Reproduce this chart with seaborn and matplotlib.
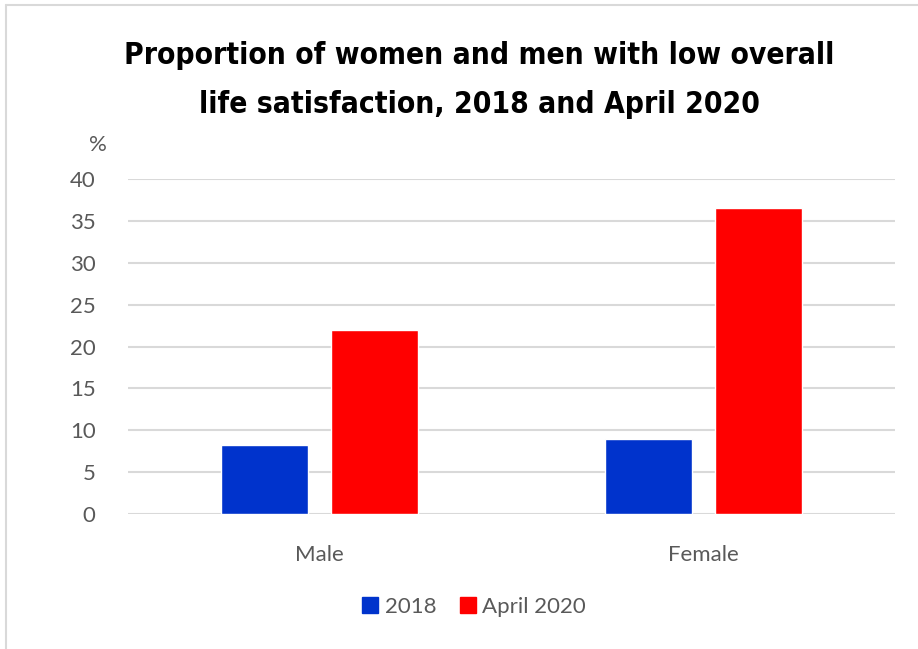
import pandas as pd
import seaborn as sns
import matplotlib.pyplot as plt
from matplotlib.lines import Line2D

# values (%)
sexes = ["Male", "Female"]
periods = ["2018", "April 2020"]
vals_2018 = [8.2, 9.0]
vals_apr2020 = [22.0, 36.6]
y_ticks = [0, 5, 10, 15, 20, 25, 30, 35, 40]

df = pd.DataFrame({
    "sex": sexes * 2,
    "period": [periods[0]] * 2 + [periods[1]] * 2,
    "pct": vals_2018 + vals_apr2020,
})

sns.set_style("white")
plt.rcParams['font.family'] = ['Lato', 'DejaVu Sans']

colors = {"2018": "#0033CC", "April 2020": "#FF0000"}
grey = "#595959"

fig = plt.figure(figsize=(9.18, 6.49), dpi=100)
ax = fig.add_axes([0.139, 0.208, 0.836, 0.516])

sns.barplot(data=df, x="sex", y="pct", hue="period", order=sexes,
            hue_order=periods, palette=colors, width=0.574, gap=0.21,
            saturation=1, ax=ax, legend=False, zorder=3)

ax.set_ylim(0, 40)
ax.set_xlim(-0.5, 1.5)
ax.set_yticks(y_ticks)
ax.yaxis.grid(True, color="#d9d9d9", linewidth=1.5, zorder=0)
ax.set_axisbelow(True)
for s in ax.spines.values():
    s.set_visible(False)
ax.tick_params(axis="both", length=0, labelsize=16, labelcolor=grey)
ax.tick_params(axis="y", pad=23)
ax.tick_params(axis="x", pad=22)
ax.set_xlabel("")
ax.set_ylabel("")

fig.text(0.107, 0.777, "%", fontsize=16, color=grey, ha="center", va="center")

title_font = dict(family="DejaVu Sans", fontstretch="condensed",
                  fontweight="bold", fontsize=21.5, color="black",
                  ha="center", va="center")
fig.text(0.522, 0.914, "Proportion of women and men with low overall",
         **title_font)
fig.text(0.522, 0.839, "life satisfaction, 2018 and April 2020",
         **title_font)

handles = [Line2D([], [], marker="s", linestyle="", markersize=11,
                  color=colors[p]) for p in periods]
fig.legend(handles, periods, loc="center", bbox_to_anchor=(0.516, 0.065),
           ncol=2, frameon=False, fontsize=16, labelcolor=grey,
           handletextpad=0.25, columnspacing=1.0, handlelength=0.8)

# outer chart border
fig.add_artist(Line2D([0.006, 1.0], [0.992, 0.992], color="#d9d9d9",
                      linewidth=1.5, transform=fig.transFigure))
fig.add_artist(Line2D([0.006, 0.006], [0.0, 0.992], color="#d9d9d9",
                      linewidth=1.5, transform=fig.transFigure))

fig.savefig("out.png", dpi=100)
